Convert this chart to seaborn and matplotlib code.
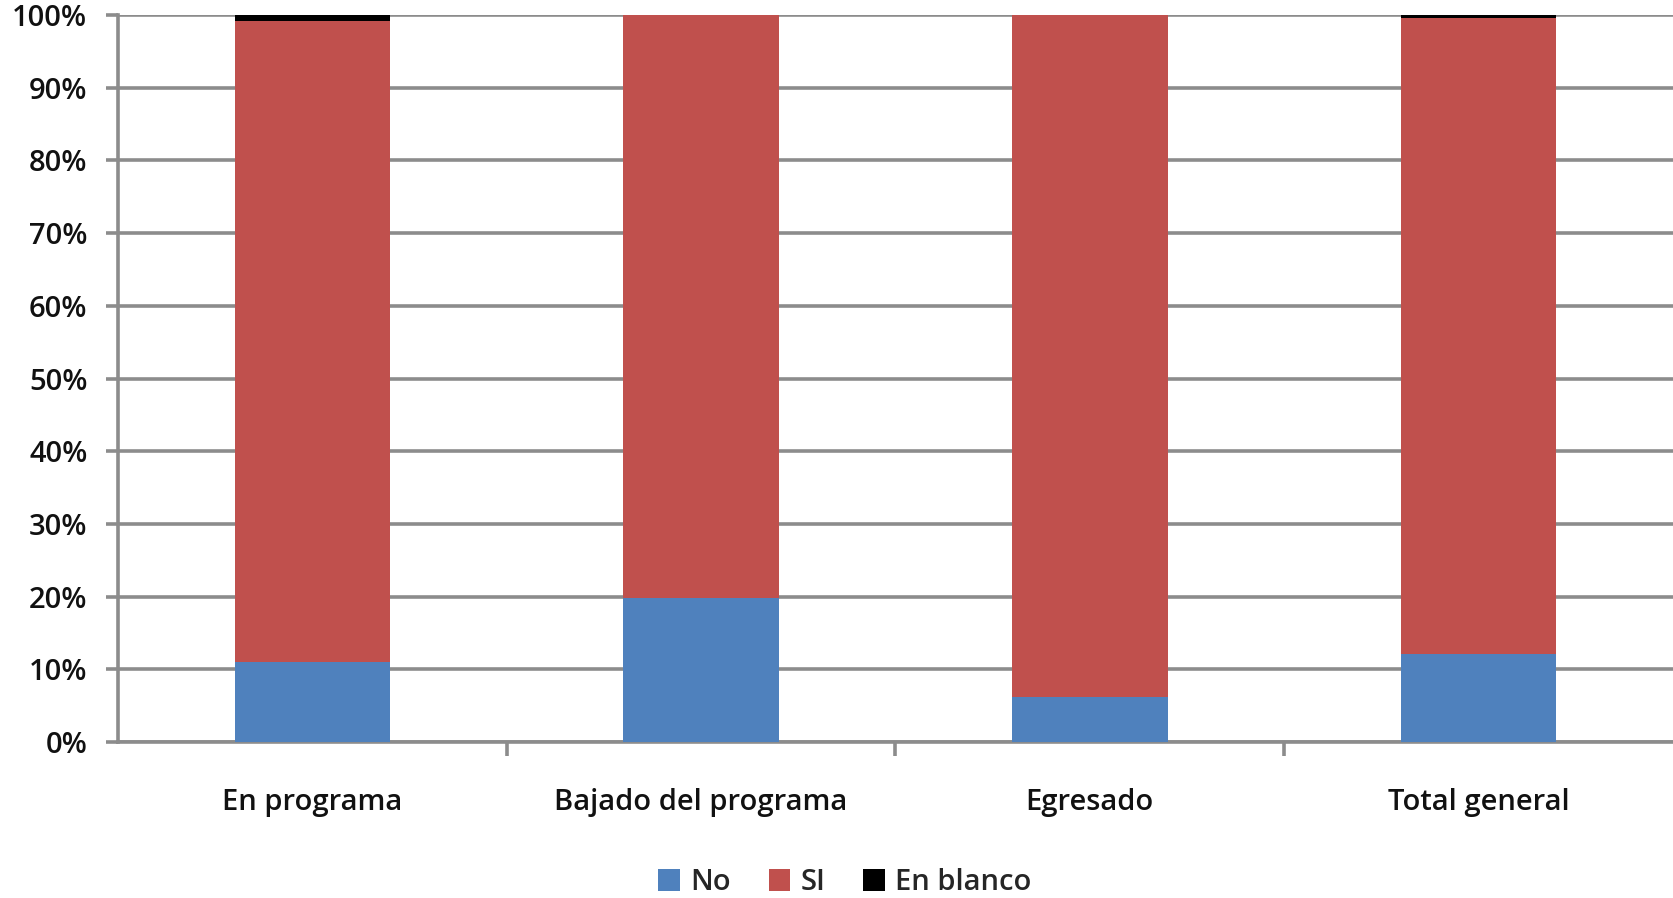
import matplotlib
matplotlib.use("Agg")
import matplotlib.pyplot as plt
import seaborn as sns
import numpy as np
import pandas as pd
from matplotlib.patches import Patch
from matplotlib.ticker import FixedLocator

categories = ["En programa", "Bajado del programa", "Egresado", "Total general"]
no_vals = [11.0, 19.8, 6.2, 12.1]
si_vals = [88.2, 80.2, 93.8, 87.45]
blanco_vals = [0.8, 0.0, 0.0, 0.45]
series_names = ["No", "SI", "En blanco"]
colors = ["#4F81BD", "#C0504D", "#000000"]
y_ticks = [0, 10, 20, 30, 40, 50, 60, 70, 80, 90, 100]

sns.set_theme(style="white")
plt.rcParams['font.family'] = ['Open Sans', 'DejaVu Sans']

fig = plt.figure(figsize=(16.73, 8.98), dpi=100)
ax = fig.add_axes([0.0705, 0.1737, 0.9295, 0.8096])

df = pd.DataFrame({"cat": categories, "No": no_vals, "SI": si_vals, "En blanco": blanco_vals})
bottom = np.zeros(len(categories))
for name, col in zip(series_names, colors):
    sns.barplot(data=df, x="cat", y=name, color=col, width=0.40, bottom=bottom,
                ax=ax, saturation=1, zorder=3, linewidth=0, order=categories)
    bottom = bottom + df[name].to_numpy()

ax.set_xlim(-0.5, len(categories) - 0.5)
ax.set_ylim(0, 100)
ax.set_yticks(y_ticks)
ax.set_yticklabels([f"{v}%" for v in y_ticks])
ax.set_xlabel("")
ax.set_ylabel("")

gridc = "#8C8C8C"
ax.yaxis.grid(True, color=gridc, linewidth=2.6, zorder=0)
ax.xaxis.grid(False)
ax.set_axisbelow(True)
for s in ["top", "right"]:
    ax.spines[s].set_visible(False)
for s in ["left", "bottom"]:
    ax.spines[s].set_color(gridc)
    ax.spines[s].set_linewidth(2.6)

ax.tick_params(axis="y", which="major", left=True, length=9, width=2.6, color=gridc,
               labelsize=21, pad=13, labelcolor="#111111")
ax.tick_params(axis="x", which="major", bottom=False, labelsize=21, pad=27, labelcolor="#111111")
ax.xaxis.set_minor_locator(FixedLocator([0.5, 1.5, 2.5]))
ax.tick_params(axis="x", which="minor", bottom=True, length=10, width=2.6, color=gridc)
for lab in ax.get_yticklabels() + ax.get_xticklabels():
    lab.set_fontweight("semibold")

handles = [Patch(facecolor=c, edgecolor="none", label=n) for n, c in zip(series_names, colors)]
fig.legend(handles=handles, loc="center", bbox_to_anchor=(0.505, 0.017), ncol=3, frameon=False,
           prop={"size": 21, "weight": "semibold"}, handlelength=0.75, handleheight=0.75,
           handletextpad=0.35, columnspacing=1.3)

fig.savefig("out.png", dpi=100)
